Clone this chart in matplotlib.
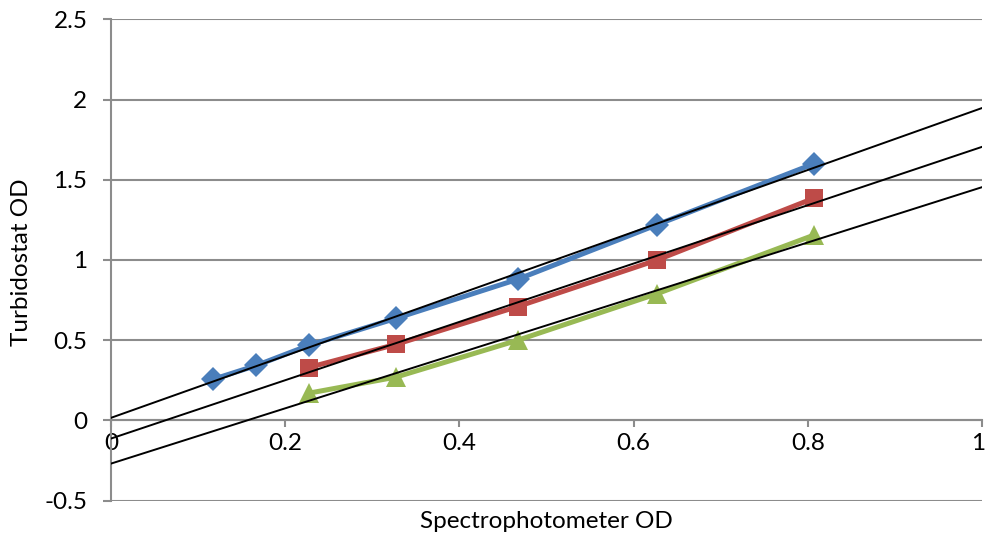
import numpy as np
import matplotlib
matplotlib.use("Agg")
import matplotlib.pyplot as plt
from matplotlib.transforms import ScaledTranslation

plt.rcParams['font.family'] = ['Lato', 'DejaVu Sans']

# Spectrophotometer readings (x) and turbidostat readings (y) for three calibrations
x_blue = [0.117, 0.167, 0.227, 0.327, 0.467, 0.627, 0.807]
y_blue = [0.256, 0.343, 0.468, 0.636, 0.880, 1.220, 1.600]

x_red = [0.227, 0.327, 0.467, 0.627, 0.807]
y_red = [0.330, 0.474, 0.710, 1.000, 1.385]

x_green = [0.227, 0.327, 0.467, 0.627, 0.807]
y_green = [0.170, 0.270, 0.500, 0.790, 1.155]

x_ticks = [0, 0.2, 0.4, 0.6, 0.8, 1]
x_tick_labels = ['0', '0.2', '0.4', '0.6', '0.8', '1']
y_ticks = [-0.5, 0, 0.5, 1, 1.5, 2, 2.5]
y_tick_labels = ['-0.5', '0', '0.5', '1', '1.5', '2', '2.5']

series = [
    (x_blue, y_blue, '#4A7EBB', 'D', 12.5),
    (x_red, y_red, '#BE4B48', 's', 13.5),
    (x_green, y_green, '#98B954', '^', 15),
]

grid_color = '#8C8C8C'
font_size = 17.5

fig = plt.figure(figsize=(9.86, 5.38), dpi=100)
ax = fig.add_axes([111 / 986, 1 - 500.7 / 538, (982 - 111) / 986, (500.7 - 19.3) / 538])

ax.set_xlim(0, 1)
ax.set_ylim(-0.5, 2.5)

for y in y_ticks:
    ax.axhline(y, color=grid_color, lw=1.5, zorder=1)

# data series and linear trendlines over the full x range
xs_fit = np.array([0.0, 1.0])
for xs, ys, color, marker, ms in series:
    ax.plot(xs, ys, color=color, lw=3.6, marker=marker, ms=ms,
            markeredgewidth=0, solid_capstyle='round', zorder=3)
for xs, ys, color, marker, ms in series:
    slope, intercept = np.polyfit(xs, ys, 1)
    ax.plot(xs_fit, slope * xs_fit + intercept, color='black', lw=1.4, zorder=4)

# axes styling
for side in ['top', 'right']:
    ax.spines[side].set_visible(False)
ax.spines['bottom'].set_position(('data', 0))
ax.spines['bottom'].set_color(grid_color)
ax.spines['bottom'].set_linewidth(1.5)
ax.spines['left'].set_color(grid_color)
ax.spines['left'].set_linewidth(1.5)
ax.spines['left'].set_zorder(2)

ax.set_xticks(x_ticks)
ax.set_xticklabels(x_tick_labels)
ax.set_yticks(y_ticks)
ax.set_yticklabels(y_tick_labels)
ax.tick_params(axis='x', direction='out', length=5, width=1.5, color=grid_color,
               pad=4, labelsize=font_size)
ax.tick_params(axis='y', direction='out', length=6, width=1.5, color=grid_color,
               pad=11, labelsize=font_size)

# keep the last x label inside the figure edge
last = ax.get_xticklabels()[-1]
last.set_transform(last.get_transform() + ScaledTranslation(-4 / 100, 0, fig.dpi_scale_trans))

fig.text((111 + 982) / 2 / 986, 1 - 522 / 538, 'Spectrophotometer OD',
         ha='center', va='center', fontsize=font_size)
fig.text(22 / 986, 1 - 262 / 538, 'Turbidostat OD', rotation=90,
         ha='center', va='center', fontsize=font_size)

fig.savefig('out.png', dpi=100)
